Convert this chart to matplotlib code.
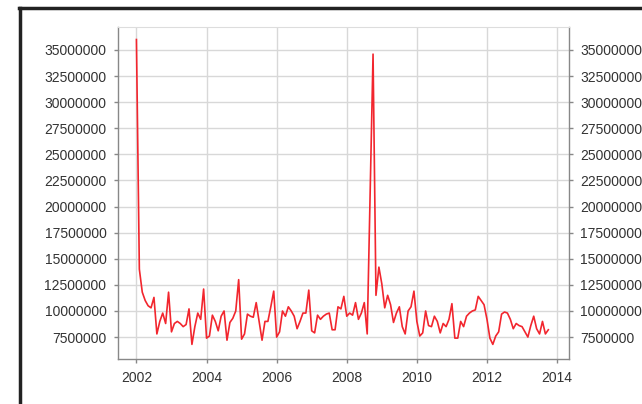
import matplotlib
matplotlib.use("Agg")
import matplotlib.pyplot as plt
from matplotlib.lines import Line2D
import numpy as np

# monthly values, Jan 2002 .. Oct 2013
start_year = 2002
values = [36.0, 14.0, 11.8, 11.0, 10.5, 10.3, 11.3, 7.8, 9.0, 9.8, 8.8, 11.8,
          8.0, 8.8, 9.0, 8.8, 8.5, 8.7, 10.2, 6.8, 8.5, 9.8, 9.2, 12.1,
          7.4, 7.6, 9.6, 9.0, 8.1, 9.5, 10.0, 7.2, 8.9, 9.3, 10.0, 13.0,
          7.3, 7.8, 9.7, 9.5, 9.4, 10.8, 9.0, 7.2, 9.0, 9.0, 10.4, 11.9,
          7.5, 8.0, 10.0, 9.5, 10.4, 10.0, 9.5, 8.3, 9.0, 9.8, 9.8, 12.0,
          8.1, 7.9, 9.6, 9.2, 9.5, 9.7, 9.8, 8.2, 8.2, 10.4, 10.2, 11.4,
          9.5, 9.8, 9.6, 10.8, 9.2, 9.8, 10.8, 7.8, 21.0, 34.6, 11.5, 14.2,
          12.6, 10.3, 11.5, 10.6, 8.9, 9.8, 10.4, 8.5, 7.8, 10.0, 10.4, 11.9,
          9.0, 7.6, 7.9, 10.0, 8.6, 8.5, 9.5, 9.0, 7.9, 8.8, 8.5, 9.2,
          10.7, 7.4, 7.4, 9.0, 8.5, 9.5, 9.8, 10.0, 10.1, 11.4, 11.0, 10.6,
          9.2, 7.4, 6.8, 7.6, 8.0, 9.7, 9.9, 9.8, 9.2, 8.3, 8.8, 8.6,
          8.5, 8.0, 7.5, 8.6, 9.5, 8.3, 7.8, 9.0, 7.8, 8.2]
values = np.array(values) * 1e6
years = start_year + np.arange(len(values)) / 12.0

y_ticks = [7500000, 10000000, 12500000, 15000000, 17500000, 20000000,
           22500000, 25000000, 27500000, 30000000, 32500000, 35000000]
x_ticks = [2002, 2004, 2006, 2008, 2010, 2012, 2014]

plt.rcParams['font.family'] = ['Liberation Sans', 'DejaVu Sans']

fig = plt.figure(figsize=(6.42, 4.04), dpi=100)
ax = fig.add_axes([117.5 / 642, 1 - 359 / 404, (569 - 117.5) / 642, (359 - 27) / 404])

ax.plot(years, values, color='#f2262e', linewidth=1.2)

ax.set_xlim(2001.46, 2014.34)
ax.set_ylim(5.4e6, 37.2e6)
ax.set_xticks(x_ticks)
ax.set_xticklabels([str(x) for x in x_ticks])
ax.set_yticks(y_ticks)
ax.set_yticklabels([str(v) for v in y_ticks])

ax.grid(True, color='#d8d8d8', linewidth=1.0)
ax.set_axisbelow(True)

for side in ['left', 'bottom', 'right']:
    ax.spines[side].set_color('#888888')
    ax.spines[side].set_linewidth(1.0)
ax.spines['top'].set_color('#dddddd')

ax.tick_params(axis='both', colors='#888888', labelcolor='#333333',
               labelsize=10, length=3, width=1)
ax.tick_params(axis='x', pad=6)
ax.tick_params(axis='y', pad=5, right=True, labelright=True)

# outer black frame (top and left)
fig.add_artist(Line2D([19 / 642, 1.0], [1 - 8 / 404, 1 - 8 / 404],
                      color='#222222', linewidth=2.5, transform=fig.transFigure))
fig.add_artist(Line2D([20 / 642, 20 / 642], [0.0, 1 - 8 / 404],
                      color='#222222', linewidth=2.5, transform=fig.transFigure))

fig.savefig("out.png", dpi=100)
